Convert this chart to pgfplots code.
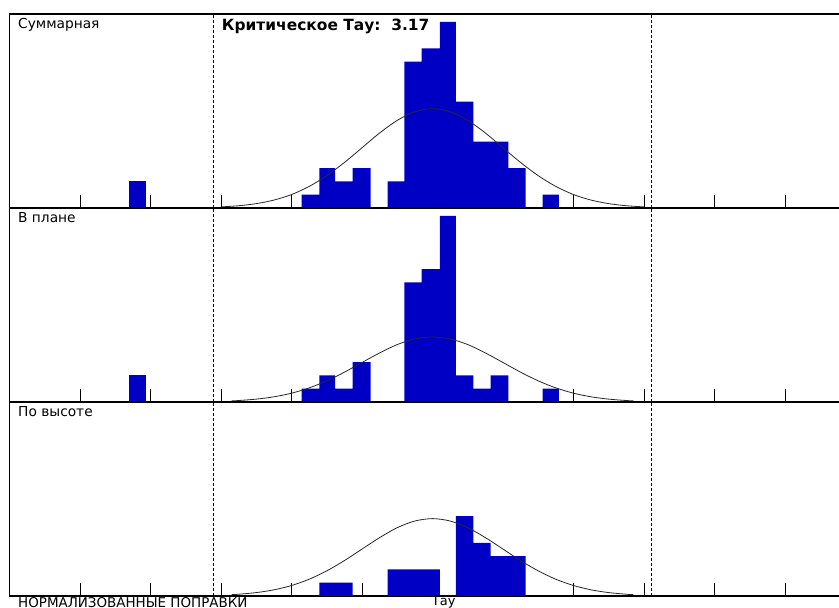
\documentclass[border=0pt]{standalone}
\usepackage{pgfplots}
\pgfplotsset{compat=1.18}
\usepackage{fontspec}
\setmainfont{DejaVu Sans}
\definecolor{barblue}{RGB}{0,0,196}
\definecolor{curvegray}{RGB}{40,40,40}
\pgfplotsset{
  panel/.style={
    width=846bp, height=194bp, scale only axis,
    xmin=-6, xmax=6, ymin=0, ymax=14.59,
    xtick={-5,-4,-3,-2,-1,0,1,2,3,4,5}, xticklabels={},
    ytick=\empty, tick align=inside, xtick pos=bottom,
    major tick length=12.7bp,
    axis line style={line width=1.2bp, black},
    tick style={line width=1bp, black},
    anchor=south west,
  },
  bars/.style={ybar interval, fill=barblue, draw=none},
  gauss/.style={curvegray, line width=0.8bp, smooth, no marks},
  crit/.style={black, line width=1bp, dash pattern=on 3bp off 2bp, no marks},
}
\begin{document}
\begin{tikzpicture}
\useasboundingbox (0,0) rectangle (839bp,608bp);
\clip (0,0) rectangle (839bp,608bp);
% ---------- Panel 1: Суммарная ----------
\begin{axis}[panel, at={(9.5bp,400bp)}]
\addplot[bars] coordinates {(-4.30,2) (-4.07,0)};
\addplot[bars] coordinates {(-1.855,1) (-1.606,3) (-1.383,2) (-1.132,3) (-0.877,0) (-0.635,2) (-0.400,11) (-0.153,12) (0.106,14) (0.333,8) (0.579,5) (0.825,5) (1.076,3) (1.322,0) (1.563,1) (1.794,0)};
\addplot[gauss] coordinates {(-3,0.083) (-2.75,0.170) (-2.5,0.328) (-2.25,0.594) (-2,1.01) (-1.75,1.62) (-1.5,2.43) (-1.25,3.42) (-1,4.53) (-0.75,5.64) (-0.5,6.59) (-0.25,7.24) (0,7.47) (0.25,7.24) (0.5,6.59) (0.75,5.64) (1,4.53) (1.25,3.42) (1.5,2.43) (1.75,1.62) (2,1.01) (2.25,0.594) (2.5,0.328) (2.75,0.170) (3,0.083)};
\addplot[crit] coordinates {(-3.11,0) (-3.11,14.59)};
\addplot[crit] coordinates {(3.10,0) (3.10,14.59)};
\end{axis}
% ---------- Panel 2: В плане ----------
\begin{axis}[panel, at={(9.5bp,206bp)}]
\addplot[bars] coordinates {(-4.30,2) (-4.07,0)};
\addplot[bars] coordinates {(-1.855,1) (-1.606,2) (-1.383,1) (-1.132,3) (-0.877,0) (-0.635,0) (-0.400,9) (-0.153,10) (0.106,14) (0.333,2) (0.579,1) (0.825,2) (1.076,0) (1.322,0) (1.563,1) (1.794,0)};
\addplot[gauss] coordinates {(-2.85,0.084) (-2.75,0.111) (-2.5,0.215) (-2.25,0.389) (-2,0.662) (-1.75,1.06) (-1.5,1.59) (-1.25,2.24) (-1,2.97) (-0.75,3.69) (-0.5,4.32) (-0.25,4.74) (0,4.89) (0.25,4.74) (0.5,4.32) (0.75,3.69) (1,2.97) (1.25,2.24) (1.5,1.59) (1.75,1.06) (2,0.662) (2.25,0.389) (2.5,0.215) (2.75,0.111) (2.85,0.084)};
\addplot[crit] coordinates {(-3.11,0) (-3.11,14.59)};
\addplot[crit] coordinates {(3.10,0) (3.10,14.59)};
\end{axis}
% ---------- Panel 3: По высоте ----------
\begin{axis}[panel, at={(9.5bp,12bp)}]
\addplot[bars] coordinates {(-1.855,0) (-1.606,1) (-1.383,1) (-1.132,0) (-0.877,0) (-0.635,2) (-0.400,2) (-0.153,2) (0.106,0) (0.333,6) (0.579,4) (0.825,3) (1.076,3) (1.322,0)};
\addplot[gauss] coordinates {(-2.85,0.100) (-2.75,0.133) (-2.5,0.256) (-2.25,0.463) (-2,0.788) (-1.75,1.26) (-1.5,1.89) (-1.25,2.66) (-1,3.53) (-0.75,4.39) (-0.5,5.14) (-0.25,5.64) (0,5.82) (0.25,5.64) (0.5,5.14) (0.75,4.39) (1,3.53) (1.25,2.66) (1.5,1.89) (1.75,1.26) (2,0.788) (2.25,0.463) (2.5,0.256) (2.75,0.133) (2.85,0.100)};
\addplot[crit] coordinates {(-3.11,0) (-3.11,14.59)};
\addplot[crit] coordinates {(3.10,0) (3.10,14.59)};
\end{axis}
% ---------- Texts ----------
\node[anchor=base west, inner sep=0pt] at (18bp,579.3bp) {\fontsize{13.8}{15}\selectfont Суммарная};
\node[anchor=base west, inner sep=0pt] at (221.7bp,577.3bp) {\fontsize{15.5}{17}\selectfont\bfseries Критическое Тау:\ \ 3.17};
\node[anchor=base west, inner sep=0pt] at (18bp,385.5bp) {\fontsize{13.8}{15}\selectfont В плане};
\node[anchor=base west, inner sep=0pt] at (18bp,191.3bp) {\fontsize{13.8}{15}\selectfont По высоте};
\node[anchor=base west, inner sep=0pt] at (18bp,0.3bp) {\fontsize{13.5}{15}\selectfont НОРМАЛИЗОВАННЫЕ ПОПРАВКИ};
\node[anchor=base west, inner sep=0pt] at (431.7bp,2.5bp) {\fontsize{13}{15}\selectfont Тау};
\end{tikzpicture}
\end{document}
